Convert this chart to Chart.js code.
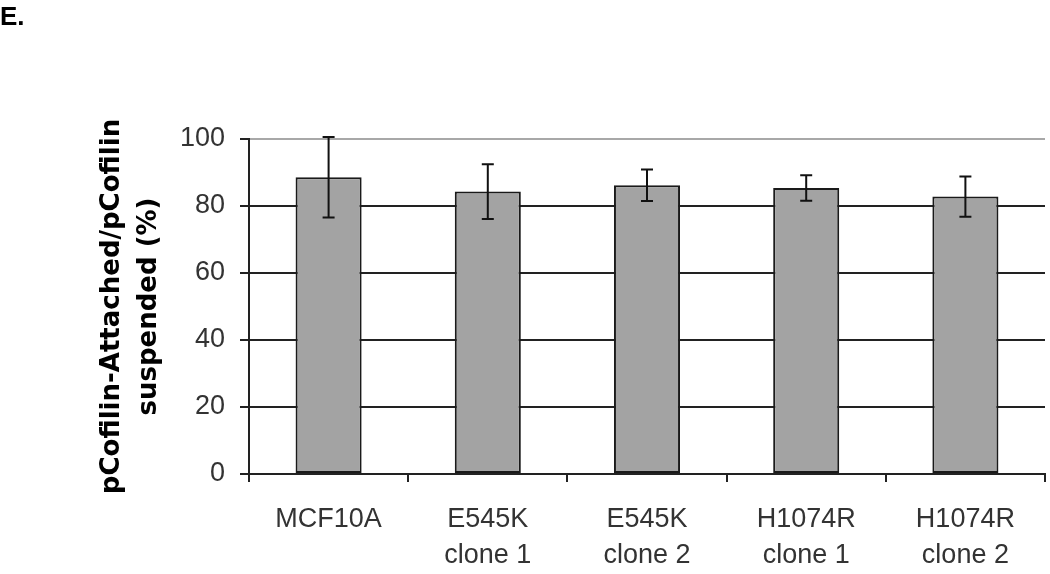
<!DOCTYPE html>
<html>
<head>
<meta charset="utf-8">
<script src="https://cdn.jsdelivr.net/npm/chart.js@4.4.1/dist/chart.umd.min.js"></script>
<style>
  html, body { margin: 0; padding: 0; background: #fff; }
  #wrap { position: relative; width: 1050px; height: 574px; }
  #panel { position: absolute; left: 0px; top: 3px; font-family: "Liberation Sans", Arial, sans-serif; font-weight: bold; font-size: 26px; line-height: 26px; color: #000; }
  canvas { display: block; }
</style>
</head>
<body>
<div id="wrap">
  <canvas id="c" width="1050" height="574"></canvas>
  <div id="panel">E.</div>
</div>
<script>
// ---- data ----
const categories = [["MCF10A"], ["E545K", "clone 1"], ["E545K", "clone 2"], ["H1074R", "clone 1"], ["H1074R", "clone 2"]];
const meanValues = [88.6, 84.3, 86.2, 85.4, 82.8];
const errorValues = [12.0, 8.2, 4.7, 3.8, 6.0];
const yTicks = [0, 20, 40, 60, 80, 100];
const yTitle = ["pCofilin-Attached/pCofilin", "suspended (%)"];

const tickFont = { family: "'Liberation Sans', Arial, sans-serif", size: 27, lineHeight: 1.35 };

const errorBars = {
  id: 'errorBars',
  afterDatasetsDraw(chart) {
    const meta = chart.getDatasetMeta(0);
    const y = chart.scales.y;
    const ctx = chart.ctx;
    ctx.save();
    ctx.strokeStyle = '#111';
    ctx.lineWidth = 2;
    meta.data.forEach((bar, i) => {
      const x = bar.x;
      const top = y.getPixelForValue(meanValues[i] + errorValues[i]);
      const bot = y.getPixelForValue(meanValues[i] - errorValues[i]);
      const cap = 6;
      ctx.beginPath();
      ctx.moveTo(x, top); ctx.lineTo(x, bot);
      ctx.moveTo(x - cap, top); ctx.lineTo(x + cap, top);
      ctx.moveTo(x - cap, bot); ctx.lineTo(x + cap, bot);
      ctx.stroke();
    });
    ctx.restore();
  }
};

new Chart(document.getElementById('c'), {
  type: 'bar',
  data: {
    labels: categories,
    datasets: [{
      data: meanValues,
      backgroundColor: '#a3a3a3',
      borderColor: '#1a1a1a',
      borderWidth: 2,
      borderSkipped: false,
      barPercentage: 0.415,
      categoryPercentage: 1.0
    }]
  },
  options: {
    responsive: false,
    animation: false,
    devicePixelRatio: 1,
    layout: { padding: { top: 139, right: 5, bottom: 0, left: 0 } },
    plugins: { legend: { display: false }, tooltip: { enabled: false } },
    scales: {
      x: {
        offset: true,
        afterFit(s) { s.height = 100; },
        grid: { drawOnChartArea: false, offset: true, tickLength: 8, tickColor: '#222', lineWidth: 2 },
        border: { color: '#222', width: 2 },
        ticks: { color: '#333', font: tickFont, padding: 19, maxRotation: 0 }
      },
      y: {
        min: 0, max: 100,
        afterFit(s) { s.width = 249; },
        afterBuildTicks(s) { s.ticks = yTicks.map(v => ({ value: v })); },
        grid: {
          color: ctx => (ctx.tick && ctx.tick.value === 100) ? '#a8a8a8' : '#222',
          lineWidth: 2,
          tickLength: 9,
          tickColor: '#222'
        },
        border: { color: '#222', width: 2 },
        ticks: { color: '#333', font: tickFont, padding: 15 },
        title: {
          display: true,
          text: yTitle,
          color: '#000',
          font: { family: "'DejaVu Sans', Verdana, sans-serif", weight: 'bold', size: 26, lineHeight: 1.45 },
          padding: { top: 93, bottom: 0 }
        }
      }
    }
  },
  plugins: [errorBars]
});
</script>
</body>
</html>
